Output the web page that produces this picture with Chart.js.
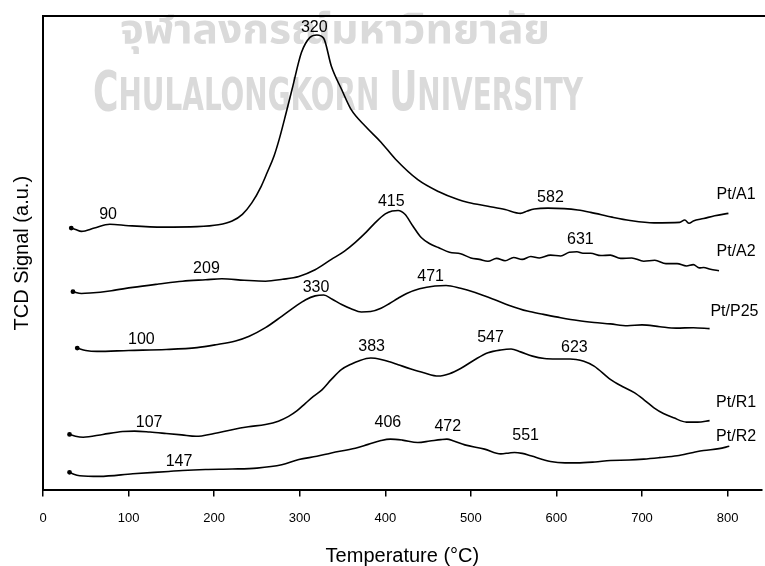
<!DOCTYPE html>
<html>
<head>
<meta charset="utf-8">
<title>TCD Signal</title>
<script src="https://cdn.jsdelivr.net/npm/chart.js@4.4.0/dist/chart.umd.min.js"></script>
<style>
  html, body { margin: 0; padding: 0; background: #fff; }
  #chartBox { width: 765px; height: 566px; }
</style>
</head>
<body>
<div id="chartBox"><canvas id="tpdChart" width="765" height="566"></canvas></div>
<script>
// Temperature (°C) and TCD signal (a.u.) for each sample
const a1Temp = [33, 38, 45, 60, 78, 100, 140, 180, 205, 221, 233, 244, 255, 262, 270, 276, 284, 291, 302, 312, 320, 328, 337, 349, 360, 377, 395, 412, 438, 462, 485, 497, 520, 540, 558, 566, 574, 590, 609, 625, 640, 665, 686, 714, 744, 750, 755, 760, 772, 785, 801];
const a1Signal = [55.3, 55.0, 54.6, 55.3, 56.1, 55.8, 55.5, 55.6, 56.0, 56.8, 58.2, 60.6, 64.1, 67.0, 70.5, 74.0, 79.5, 84.5, 92.3, 95.5, 96.0, 95.3, 89.4, 84.5, 80.3, 76.7, 73.4, 69.8, 65.5, 63.0, 61.3, 60.7, 59.9, 59.2, 58.4, 58.9, 59.3, 59.5, 59.4, 59.1, 58.6, 57.6, 56.9, 56.4, 56.5, 57.0, 56.3, 56.8, 57.3, 57.9, 58.4];

const a2Temp = [35, 45, 55, 80, 105, 135, 163, 190, 209, 235, 260, 280, 299, 318, 337, 352, 365, 378, 388, 400, 408, 415, 423, 432, 442, 452, 462, 475, 488, 500, 510, 520, 530, 540, 550, 560, 570, 580, 593, 605, 615, 624, 631, 640, 652, 663, 675, 688, 702, 715, 728, 741, 752, 760, 767, 772, 780, 790];
const a2Signal = [41.9, 41.5, 41.6, 42.1, 42.8, 43.5, 44.1, 44.4, 44.6, 44.3, 44.1, 44.5, 45.1, 46.5, 48.7, 50.4, 52.3, 54.5, 56.4, 58.3, 58.9, 59.0, 58.2, 55.8, 53.3, 52.0, 51.2, 50.2, 49.9, 49.0, 48.7, 48.3, 48.9, 48.4, 49.1, 48.7, 49.3, 49.0, 49.6, 49.4, 50.2, 50.3, 50.0, 50.0, 49.5, 49.6, 48.9, 49.0, 48.3, 48.5, 47.8, 47.8, 47.3, 47.6, 46.9, 47.0, 46.6, 46.3];

const p25Temp = [40, 50, 63, 100, 144, 180, 202, 225, 241, 260, 279, 295, 307, 318, 328, 338, 349, 360, 372, 383, 395, 405, 415, 425, 440, 458, 471, 488, 505, 528, 545, 566, 585, 605, 625, 644, 663, 683, 700, 721, 740, 760, 779];
const p25Signal = [30.0, 29.5, 29.3, 29.5, 29.7, 30.1, 30.7, 31.5, 32.5, 34.3, 36.7, 38.8, 40.2, 41.0, 41.2, 40.3, 39.2, 38.3, 37.6, 37.7, 38.4, 39.4, 40.5, 41.5, 42.5, 43.1, 43.2, 42.6, 41.7, 40.2, 39.0, 37.8, 37.1, 36.4, 35.8, 35.4, 35.1, 34.7, 34.9, 34.5, 34.2, 34.3, 34.1];

const r1Temp = [31, 38, 47, 70, 93, 107, 125, 144, 162, 179, 200, 221, 240, 260, 275, 287, 297, 307, 316, 326, 337, 349, 360, 369, 383, 395, 405, 415, 430, 445, 462, 475, 488, 505, 520, 535, 547, 558, 572, 586, 600, 616, 623, 632, 644, 663, 677, 691, 703, 714, 725, 737, 752, 765, 779];
const r1Signal = [11.8, 11.4, 11.2, 11.8, 12.4, 12.5, 12.3, 12.0, 11.7, 11.4, 12.0, 12.8, 13.4, 13.9, 14.6, 15.6, 16.8, 18.4, 19.8, 21.2, 23.4, 25.5, 26.6, 27.3, 27.9, 27.6, 27.1, 26.5, 25.6, 24.8, 24.1, 24.6, 25.7, 27.6, 29.0, 29.6, 29.8, 29.2, 28.3, 27.8, 27.7, 27.7, 27.6, 27.2, 26.2, 23.4, 21.9, 20.6, 19.0, 17.4, 16.2, 15.3, 14.4, 14.4, 14.7];

const r2Temp = [31, 36, 43, 66, 105, 147, 163, 190, 221, 250, 279, 299, 320, 337, 365, 380, 395, 406, 420, 438, 452, 465, 472, 480, 493, 516, 535, 545, 551, 560, 570, 593, 610, 624, 645, 663, 685, 702, 720, 741, 760, 772, 790, 802];
const r2Signal = [3.8, 3.4, 3.1, 2.95, 3.5, 4.0, 4.2, 4.4, 4.5, 4.7, 5.4, 6.5, 7.2, 7.9, 8.9, 9.7, 10.5, 10.8, 10.6, 10.1, 10.4, 10.7, 10.8, 10.4, 9.6, 8.7, 7.7, 7.9, 8.0, 7.8, 7.3, 6.1, 5.8, 5.8, 6.0, 6.3, 6.4, 6.6, 6.9, 7.3, 8.0, 8.4, 8.8, 9.3];

const sampleNames = ['Pt/A1', 'Pt/A2', 'Pt/P25', 'Pt/R1', 'Pt/R2'];
const xTicks = [0, 100, 200, 300, 400, 500, 600, 700, 800];

// Peak temperatures written next to the curves, with where they sit (°C, a.u.)
const peakText = ['90', '320', '582', '415', '209', '631', '330', '100', '471', '383', '107', '547', '623', '406', '472', '551', '147'];
const peakAtTemp = [76, 317, 593, 407, 191, 628, 319, 115, 453, 384, 124, 523, 621, 403, 473, 564, 159];
const peakAtSignal = [58.2, 97.6, 61.7, 60.9, 46.8, 52.9, 42.7, 31.8, 45.1, 30.3, 14.3, 32.2, 30.1, 14.3, 13.4, 11.5, 6.1];

// Sample names at the right end of each curve
const nameAtTemp = [810, 810, 808, 810, 810];
const nameAtSignal = [62.3, 50.4, 37.7, 18.5, 11.3];

function toPoints(xs, ys) {
    return xs.map((x, i) => ({ x: x, y: ys[i] }));
}

const seriesData = [
    toPoints(a1Temp, a1Signal),
    toPoints(a2Temp, a2Signal),
    toPoints(p25Temp, p25Signal),
    toPoints(r1Temp, r1Signal),
    toPoints(r2Temp, r2Signal)
];

const labelFont = '16px "Liberation Sans", Arial, sans-serif';

// University watermark behind the plot
const watermarkPlugin = {
    id: 'watermark',
    beforeDraw(chart) {
        const ctx = chart.ctx;
        ctx.save();
        ctx.fillStyle = '#dadada';
        ctx.textBaseline = 'alphabetic';
        ctx.textAlign = 'left';

        // Thai line, stretched to its width
        const thai = 'จุฬาลงกรณ์มหาวิทยาลัย';
        ctx.font = 'bold 40px "Noto Sans Thai", "Noto Sans Thai Looped", "Noto Sans", sans-serif';
        const thaiW = ctx.measureText(thai).width;
        ctx.save();
        ctx.translate(120, 43);
        ctx.scale(430 / thaiW, 1);
        ctx.fillText(thai, 0, 0);
        ctx.restore();

        // English line in small caps
        const parts = [['C', 56], ['HULALONGKORN', 45], [' ', 45], ['U', 56], ['NIVERSITY', 45]];
        const family = '"Liberation Sans Narrow", "DejaVu Sans Condensed", sans-serif';
        let total = 0;
        parts.forEach(p => {
            ctx.font = 'bold ' + p[1] + 'px ' + family;
            total += ctx.measureText(p[0]).width;
        });
        ctx.translate(93, 110);
        ctx.scale(490 / total, 1);
        let x = 0;
        parts.forEach(p => {
            ctx.font = 'bold ' + p[1] + 'px ' + family;
            ctx.fillText(p[0], x, 0);
            x += ctx.measureText(p[0]).width;
        });
        ctx.restore();
    }
};

// Top edge of the plot box
const frameTopPlugin = {
    id: 'frameTop',
    beforeDatasetsDraw(chart) {
        const area = chart.chartArea;
        const ctx = chart.ctx;
        ctx.save();
        ctx.strokeStyle = '#000';
        ctx.lineWidth = 2;
        ctx.beginPath();
        ctx.moveTo(area.left - 1, area.top);
        ctx.lineTo(chart.width, area.top);
        ctx.stroke();
        ctx.restore();
    }
};

// Peak temperatures and sample names
const peakLabelPlugin = {
    id: 'peakLabels',
    afterDatasetsDraw(chart) {
        const ctx = chart.ctx;
        const xs = chart.scales.x;
        const ys = chart.scales.y;
        ctx.save();
        ctx.fillStyle = '#000';
        ctx.font = labelFont;
        ctx.textAlign = 'center';
        ctx.textBaseline = 'middle';
        peakText.forEach((t, i) => {
            ctx.fillText(t, xs.getPixelForValue(peakAtTemp[i]), ys.getPixelForValue(peakAtSignal[i]));
        });
        sampleNames.forEach((n, i) => {
            ctx.fillText(n, xs.getPixelForValue(nameAtTemp[i]), ys.getPixelForValue(nameAtSignal[i]));
        });
        ctx.restore();
    }
};

const ctx = document.getElementById('tpdChart').getContext('2d');
new Chart(ctx, {
    type: 'line',
    data: {
        datasets: seriesData.map((pts, i) => ({
            label: sampleNames[i],
            data: pts,
            borderColor: '#000',
            backgroundColor: '#000',
            borderWidth: 1.6,
            cubicInterpolationMode: 'monotone',
            fill: false,
            pointRadius: c => c.dataIndex === 0 ? 1.6 : 0,
            pointHoverRadius: 0
        }))
    },
    options: {
        responsive: false,
        devicePixelRatio: 1,
        animation: false,
        layout: { padding: { left: 10, top: 16, right: 0, bottom: 0 } },
        plugins: {
            legend: { display: false },
            tooltip: { enabled: false }
        },
        scales: {
            x: {
                type: 'linear',
                min: 0,
                max: 840,
                afterBuildTicks: axis => {
                    axis.ticks = xTicks.map(v => ({ value: v }));
                },
                ticks: {
                    color: '#000',
                    font: { family: '"Liberation Sans", Arial, sans-serif', size: 13 },
                    padding: 14,
                    maxRotation: 0
                },
                grid: {
                    drawOnChartArea: false,
                    drawTicks: true,
                    tickLength: 6,
                    color: '#000',
                    lineWidth: 1.5
                },
                border: { display: true, color: '#000', width: 2 },
                title: {
                    display: true,
                    text: 'Temperature (°C)',
                    color: '#000',
                    font: { family: '"Liberation Sans", Arial, sans-serif', size: 20, lineHeight: 1 },
                    padding: { top: 6, bottom: 0 }
                }
            },
            y: {
                min: 0,
                max: 100,
                ticks: { display: false },
                grid: { display: false, drawTicks: false },
                border: { display: true, color: '#000', width: 2 },
                title: {
                    display: true,
                    text: 'TCD Signal (a.u.)',
                    color: '#000',
                    font: { family: '"Liberation Sans", Arial, sans-serif', size: 20, lineHeight: 1.2 },
                    padding: { top: 0, bottom: 9 }
                }
            }
        }
    },
    plugins: [watermarkPlugin, frameTopPlugin, peakLabelPlugin]
});
</script>
</body>
</html>
